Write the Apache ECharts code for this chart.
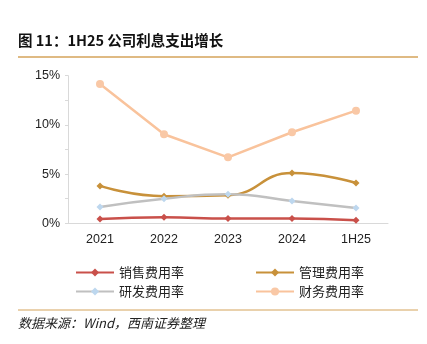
<!DOCTYPE html>
<html><head><meta charset="utf-8">
<script src="https://cdn.jsdelivr.net/npm/echarts@6/dist/echarts.min.js"></script>
<style>html,body{margin:0;padding:0;background:#fff}#c{width:427px;height:344px}</style>
</head><body><div id="c"></div>
<script>
const categories = ['2021','2022','2023','2024','1H25'];
const sales = [0.44, 0.62, 0.48, 0.48, 0.30];
const admin = [3.8, 2.75, 2.85, 5.1, 4.1];
const rnd = [1.66, 2.5, 2.95, 2.27, 1.55];
const finance = [14.15, 9.05, 6.7, 9.25, 11.45];
const seriesNames = ['销售费用率','管理费用率','研发费用率','财务费用率'];
const yTicks = [0, 5, 10, 15];

const chart = echarts.init(document.getElementById('c'));
const font = '"Liberation Sans", Arial, sans-serif';
const cjk = '"Noto Sans CJK SC", sans-serif';
function s(name, data, color, mcolor, symbol, smooth){
  return {name, type:'line', data, smooth, symbol, symbolSize: symbol==='circle'?8:7,
    lineStyle:{color, width:2.5}, itemStyle:{color:mcolor}, z: 3};
}
const legPos = [[70,261],[250,261],[70,280],[250,280]];
function leg(i){
  return {data:[seriesNames[i]], left:legPos[i][0], top:legPos[i][1], itemWidth:38, itemHeight:10, itemGap:6,
    textStyle:{fontFamily:cjk, fontSize:13, color:'#222'}};
}
chart.setOption({
  animation:false,
  graphic:[
    {type:'text', left:18, top:33, style:{text:'图 11：1H25 公司利息支出增长', font:'bold 14.5px '+cjk, fill:'#111'}},
    {type:'line', shape:{x1:18,y1:57,x2:418,y2:57}, style:{stroke:'#D4A35A', lineWidth:1.5}},
    {type:'line', shape:{x1:18,y1:310,x2:418,y2:310}, style:{stroke:'#D4A35A', lineWidth:1}},
    {type:'text', left:18, top:317, style:{text:'数据来源：Wind，西南证券整理', font:'italic 13px '+cjk, fill:'#222'}}
  ],
  grid:{left:68, right:39, top:75.7, height:147.6},
  legend:[leg(0),leg(1),leg(2),leg(3)],
  xAxis:{type:'category', data:categories, boundaryGap:true,
    axisLine:{lineStyle:{color:'#D9D9D9'}}, axisTick:{show:false},
    axisLabel:{fontFamily:font, fontSize:12.5, color:'#222', margin:10}},
  yAxis:{type:'value', min:0, max:15, interval:5,
    axisLine:{show:true, lineStyle:{color:'#D9D9D9'}},
    axisTick:{show:true, inside:false, length:3, lineStyle:{color:'#D9D9D9'}},
    minorTick:{show:true, splitNumber:2, length:3, lineStyle:{color:'#D9D9D9'}},
    splitLine:{show:false},
    axisLabel:{fontFamily:font, fontSize:12.5, color:'#222', formatter:v=>v+'%', margin:8}},
  series:[
    s(seriesNames[0], sales, '#C9504A', '#C9504A', 'diamond', true),
    s(seriesNames[1], admin, '#C8913A', '#C8913A', 'diamond', true),
    s(seriesNames[2], rnd, '#C0C0C0', '#BDD7EE', 'diamond', true),
    s(seriesNames[3], finance, '#F9C39C', '#F9C8A6', 'circle', false)
  ]
});
</script></body></html>
